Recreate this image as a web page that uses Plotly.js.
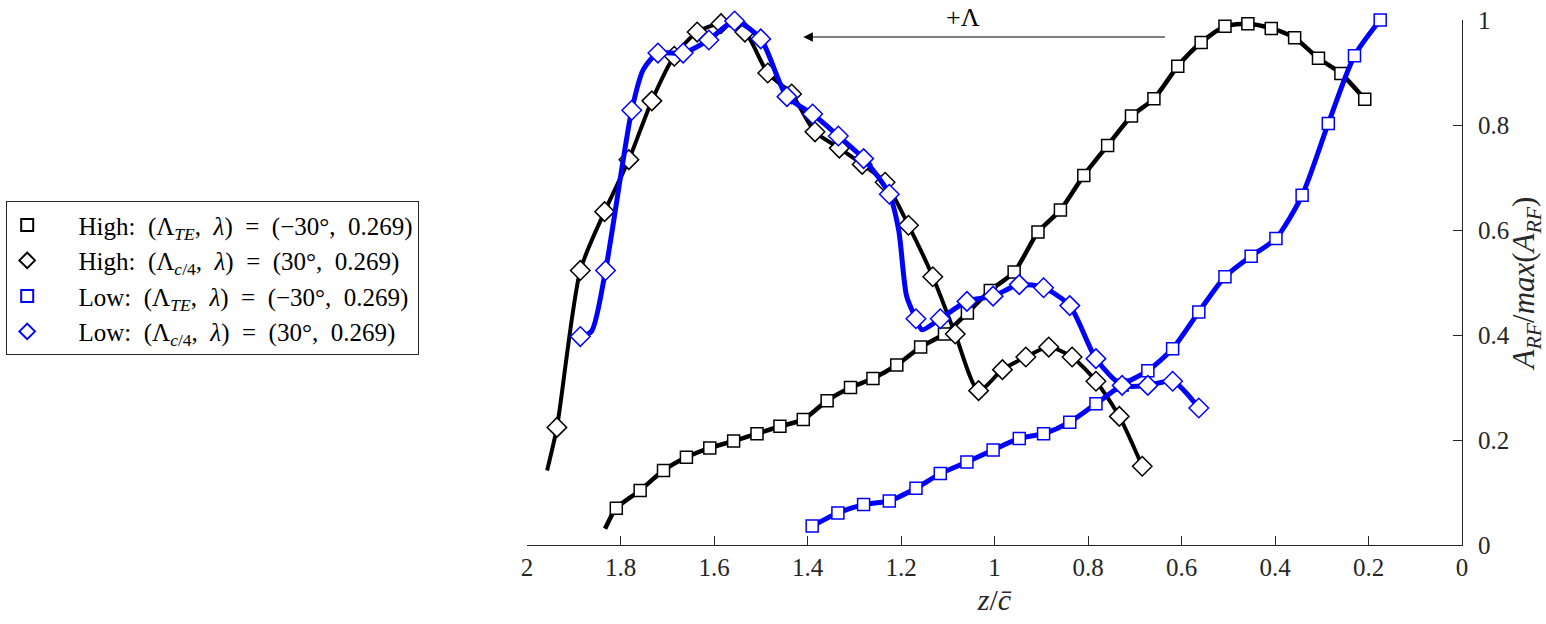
<!DOCTYPE html>
<html>
<head>
<meta charset="utf-8">
<script src="https://cdn.plot.ly/plotly-3.0.1.min.js"></script>
<style>
	body { margin: 0; background: #fff; }
	#grafico { width: 1546px; height: 624px; }
</style>
</head>
<body>
<div id="grafico"></div>
<script>
// z/c-bar positions and normalised A_RF
// High: (Λ_TE, λ) = (−30°, 0.269)
const highTE_x = [1.809, 1.758, 1.708, 1.659, 1.609, 1.558, 1.508, 1.459, 1.409, 1.358, 1.308, 1.260, 1.209, 1.158, 1.107, 1.058, 1.009, 0.958, 0.907, 0.859, 0.809, 0.758, 0.707, 0.659, 0.608, 0.558, 0.507, 0.458, 0.408, 0.358, 0.307, 0.259, 0.208];
const highTE_y = [0.070, 0.104, 0.142, 0.167, 0.185, 0.198, 0.212, 0.226, 0.239, 0.275, 0.300, 0.317, 0.343, 0.377, 0.402, 0.442, 0.485, 0.520, 0.596, 0.638, 0.704, 0.761, 0.817, 0.850, 0.912, 0.957, 0.988, 0.993, 0.984, 0.966, 0.927, 0.898, 0.849];
// puntos de la curva sin marcador
const highTE_extraX = [1.833];
const highTE_extraY = [0.031];

// High: (Λ_c/4, λ) = (30°, 0.269)
const highC4_x = [1.936, 1.886, 1.834, 1.782, 1.733, 1.685, 1.636, 1.585, 1.534, 1.485, 1.434, 1.384, 1.332, 1.283, 1.234, 1.184, 1.132, 1.084, 1.034, 0.983, 0.933, 0.884, 0.834, 0.783, 0.733, 0.684];
const highC4_y = [0.224, 0.523, 0.635, 0.734, 0.846, 0.931, 0.977, 0.993, 0.977, 0.899, 0.859, 0.787, 0.756, 0.725, 0.691, 0.609, 0.511, 0.402, 0.294, 0.334, 0.358, 0.377, 0.358, 0.312, 0.245, 0.150];
const highC4_extraX = [1.957];
const highC4_extraY = [0.142];

// Low: (Λ_TE, λ) = (−30°, 0.269)
const lowTE_x = [1.390, 1.335, 1.280, 1.225, 1.168, 1.116, 1.059, 1.003, 0.947, 0.895, 0.839, 0.783, 0.727, 0.672, 0.619, 0.563, 0.507, 0.451, 0.398, 0.342, 0.286, 0.230, 0.175];
const lowTE_y = [0.036, 0.061, 0.077, 0.084, 0.108, 0.136, 0.158, 0.181, 0.203, 0.212, 0.234, 0.269, 0.305, 0.332, 0.374, 0.444, 0.511, 0.550, 0.584, 0.666, 0.803, 0.932, 1.000];
const lowTE_extraX = [];
const lowTE_extraY = [];

// Low: (Λ_c/4, λ) = (30°, 0.269)
const lowC4_x = [1.886, 1.832, 1.776, 1.720, 1.666, 1.611, 1.556, 1.500, 1.444, 1.389, 1.334, 1.280, 1.225, 1.168, 1.116, 1.059, 1.003, 0.947, 0.895, 0.839, 0.783, 0.727, 0.672, 0.619, 0.563];
const lowC4_y = [0.397, 0.523, 0.828, 0.937, 0.937, 0.962, 0.998, 0.964, 0.854, 0.821, 0.779, 0.736, 0.668, 0.431, 0.431, 0.464, 0.474, 0.496, 0.490, 0.456, 0.355, 0.304, 0.304, 0.312, 0.261];
const lowC4_extraX = [1.862, 1.751, 1.205, 1.188, 1.155];
const lowC4_extraY = [0.407, 0.906, 0.600, 0.474, 0.410];

const sp = "\u00A0"; // espacio fijo, estilo LaTeX
const ini = sp.repeat(5);
const s2 = sp + sp;
const nombres = [
	`${ini}High:${s2}(Λ<sub><i>TE</i></sub>,${s2}<i>λ</i>)${s2}=${s2}(−30°,${s2}0.269)`,
	`${ini}High:${s2}(Λ<sub><i>c</i>/4</sub>,${s2}<i>λ</i>)${s2}=${s2}(30°,${s2}0.269)`,
	`${ini}Low:${s2}(Λ<sub><i>TE</i></sub>,${s2}<i>λ</i>)${s2}=${s2}(−30°,${s2}0.269)`,
	`${ini}Low:${s2}(Λ<sub><i>c</i>/4</sub>,${s2}<i>λ</i>)${s2}=${s2}(30°,${s2}0.269)`,
];

const fuente = "Liberation Serif, Times New Roman, serif";
const grisEje = "#262626";

// Une los puntos con marcador y los de solo linea, ordenados por z
function unirCurva(x, y, ex, ey) {
	let pts = [];
	x.forEach((v, i) => pts.push([v, y[i]]));
	ex.forEach((v, i) => pts.push([v, ey[i]]));
	pts.sort((a, b) => b[0] - a[0]);
	return { x: pts.map((p) => p[0]), y: pts.map((p) => p[1]) };
}

function crearSerie(x, y, ex, ey, nombre, color, ancho, simbolo, tam) {
	let curva = unirCurva(x, y, ex, ey);
	let linea = {
		x: curva.x,
		y: curva.y,
		mode: "lines",
		type: "scatter",
		line: { color: color, width: ancho, shape: "spline", smoothing: 0.7 },
		showlegend: false,
		hoverinfo: "skip",
		cliponaxis: false,
	};
	let marcas = {
		x: x,
		y: y,
		mode: "markers",
		type: "scatter",
		name: nombre,
		marker: {
			symbol: simbolo,
			size: tam,
			color: "#ffffff",
			line: { color: color, width: 1.5 },
		},
		cliponaxis: false,
	};
	return [linea, marcas];
}

let traces = [];
traces.push(...crearSerie(highTE_x, highTE_y, highTE_extraX, highTE_extraY, nombres[0], "#000000", 4.5, "square", 12));
traces.push(...crearSerie(highC4_x, highC4_y, highC4_extraX, highC4_extraY, nombres[1], "#000000", 4, "diamond", 15));
traces.push(...crearSerie(lowTE_x, lowTE_y, lowTE_extraX, lowTE_extraY, nombres[2], "#0000ff", 5, "square", 12));
traces.push(...crearSerie(lowC4_x, lowC4_y, lowC4_extraX, lowC4_extraY, nombres[3], "#0000ff", 5, "diamond", 15));

let layout = {
	width: 1546,
	height: 624,
	paper_bgcolor: "#ffffff",
	plot_bgcolor: "#ffffff",
	font: { family: fuente, size: 24, color: grisEje },
	margin: { l: 527, r: 84, t: 20, b: 79, autoexpand: false },
	xaxis: {
		range: [2, 0],
		dtick: 0.2,
		tick0: 0,
		showgrid: false,
		zeroline: false,
		showline: true,
		linecolor: grisEje,
		linewidth: 1,
		ticks: "inside",
		ticklen: 9,
		tickcolor: grisEje,
		ticklabelstandoff: 0,
		tickfont: { family: fuente, size: 25, color: grisEje },
		title: {
			text: "<i>z</i>/<i>c̄</i>",
			font: { family: fuente, size: 30, color: grisEje },
			standoff: 8,
		},
	},
	yaxis: {
		range: [0, 1],
		dtick: 0.2,
		side: "right",
		showgrid: false,
		zeroline: false,
		showline: true,
		linecolor: grisEje,
		linewidth: 1,
		ticks: "inside",
		ticklen: 9,
		tickcolor: grisEje,
		ticklabelstandoff: 10,
		tickfont: { family: fuente, size: 25, color: grisEje },
		title: {
			text: "<i>A</i><sub><i>RF</i></sub>/<i>max</i>(<i>A</i><sub><i>RF</i></sub>)",
			font: { family: fuente, size: 31, color: grisEje },
			standoff: 0,
		},
	},
	legend: {
		x: -0.557,
		y: 0.655,
		xanchor: "left",
		yanchor: "top",
		bgcolor: "#ffffff",
		bordercolor: grisEje,
		borderwidth: 1,
		itemwidth: 30,
		font: { family: fuente, size: 25, color: "#000000" },
		itemsizing: "constant",
	},
	annotations: [
		{
			x: 1.409,
			y: 0.9676,
			ax: 0.632,
			ay: 0.9676,
			xref: "x",
			yref: "y",
			axref: "x",
			ayref: "y",
			text: "",
			showarrow: true,
			arrowhead: 2,
			arrowsize: 1.6,
			arrowwidth: 1.2,
			arrowcolor: "#000000",
		},
		{
			x: 1.067,
			y: 1.0048,
			xref: "x",
			yref: "paper",
			yanchor: "middle",
			text: "+Λ",
			showarrow: false,
			font: { family: fuente, size: 26, color: "#000000" },
		},
	],
};

Plotly.newPlot("grafico", traces, layout, { staticPlot: true });
</script>
</body>
</html>
